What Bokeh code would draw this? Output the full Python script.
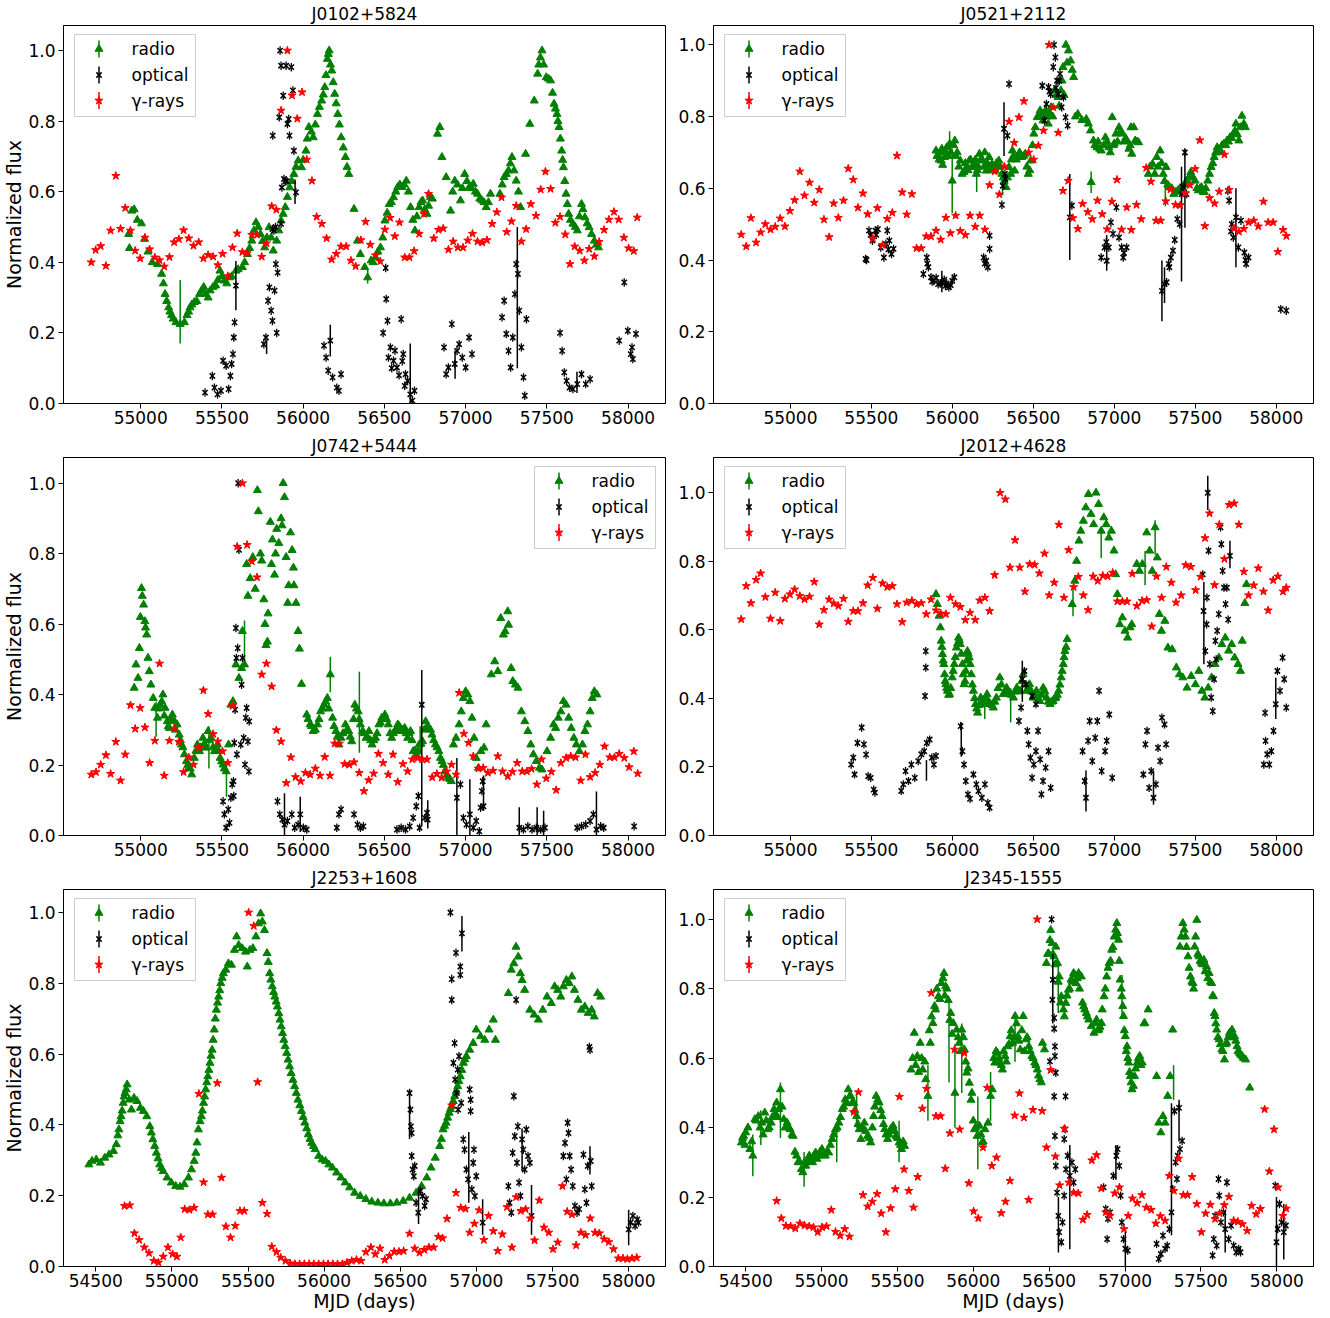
from bokeh.plotting import figure
from bokeh.layouts import gridplot
from bokeh.models import Range1d, FixedTicker, PrintfTickFormatter
from bokeh.core.properties import value
from bokeh.embed import file_html
from bokeh.resources import INLINE

# ---------------- data: (MJD, normalized flux) ----------------
J0102_radio = [(54926,0.48),(54931,0.44),(54945,0.546),(54960,0.55),(54979,0.52),(55005,0.51),(55024,0.466),(55045,0.43),(55071,0.40),(55103,0.395),(55129,0.367),(55140,0.34),(55150,0.31),(55160,0.29),(55172,0.272),(55180,0.26),(55190,0.25),(55200,0.24),(55217,0.23),(55243,0.225),(55269,0.23),(55285,0.25),(55295,0.26),(55304,0.272),(55315,0.28),(55330,0.287),(55345,0.29),(55362,0.31),(55375,0.32),(55388,0.33),(55400,0.31),(55415,0.30),(55428,0.32),(55445,0.33),(55462,0.334),(55475,0.35),(55488,0.376),(55500,0.36),(55515,0.348),(55530,0.34),(55546,0.357),(55560,0.36),(55586,0.376),(55600,0.38),(55626,0.386),(55640,0.40),(55657,0.423),(55670,0.44),(55684,0.461),(55697,0.49),(55710,0.513),(55724,0.50),(55737,0.48),(55750,0.46),(55763,0.442),(55777,0.47),(55790,0.499),(55803,0.47),(55816,0.433),(55837,0.461),(55850,0.49),(55864,0.518),(55877,0.537),(55890,0.556),(55903,0.585),(55917,0.612),(55930,0.63),(55943,0.65),(55956,0.67),(55969,0.688),(55990,0.669),(56000,0.69),(56017,0.716),(56025,0.75),(56035,0.783),(56050,0.77),(56062,0.754),(56075,0.79),(56088,0.82),(56100,0.84),(56114,0.858),(56124,0.875),(56133,0.896),(56140,0.93),(56149,0.976),(56155,0.99),(56160,1.0),(56168,0.96),(56176,0.943),(56185,0.91),(56194,0.877),(56203,0.85),(56213,0.82),(56223,0.79),(56234,0.754),(56247,0.725),(56260,0.698),(56270,0.67),(56281,0.65),(56313,0.551),(56334,0.461),(56352,0.423),(56379,0.386),(56397,0.357),(56418,0.405),(56430,0.40),(56445,0.414),(56460,0.43),(56476,0.442),(56490,0.47),(56503,0.518),(56517,0.54),(56530,0.565),(56543,0.57),(56556,0.584),(56570,0.60),(56582,0.613),(56595,0.62),(56609,0.613),(56622,0.62),(56635,0.631),(56648,0.60),(56661,0.556),(56675,0.52),(56688,0.49),(56700,0.53),(56714,0.556),(56725,0.57),(56735,0.575),(56748,0.55),(56762,0.537),(56772,0.56),(56783,0.584),(56795,0.58),(56827,0.764),(56841,0.783),(56854,0.698),(56880,0.641),(56907,0.546),(56920,0.60),(56933,0.631),(56950,0.62),(56968,0.575),(56980,0.61),(56994,0.65),(57008,0.63),(57021,0.612),(57035,0.61),(57047,0.622),(57060,0.60),(57073,0.594),(57087,0.58),(57100,0.575),(57113,0.57),(57126,0.556),(57140,0.57),(57153,0.594),(57211,0.594),(57225,0.62),(57237,0.641),(57250,0.65),(57264,0.66),(57275,0.68),(57285,0.698),(57298,0.66),(57311,0.631),(57325,0.60),(57338,0.556),(57369,0.707),(57395,0.792),(57422,0.858),(57443,0.934),(57450,0.96),(57460,0.98),(57470,1.0),(57480,0.96),(57496,0.924),(57510,0.92),(57523,0.915),(57535,0.88),(57544,0.849),(57553,0.835),(57562,0.82),(57568,0.80),(57575,0.783),(57583,0.75),(57591,0.716),(57597,0.69),(57602,0.669),(57610,0.63),(57618,0.594),(57626,0.565),(57634,0.537),(57645,0.52),(57660,0.509),(57675,0.50),(57687,0.49),(57700,0.53),(57713,0.565),(57722,0.55),(57734,0.527),(57748,0.51),(57760,0.499),(57775,0.48),(57792,0.461),(57805,0.45),(57818,0.442)]
J0102_optical = [(55396,0.031),(55441,0.078),(55454,0.045),(55473,0.026),(55494,0.036),(55507,0.121),(55526,0.107),(55541,0.041),(55552,0.078),(55560,0.112),(55568,0.14),(55573,0.187),(55578,0.23),(55586,0.334),(55758,0.168),(55771,0.187),(55784,0.291),(55792,0.329),(55803,0.263),(55811,0.234),(55813,0.759),(55824,0.32),(55832,0.395),(55837,0.2),(55843,0.371),(55853,0.811),(55858,1.0),(55864,0.957),(55869,0.612),(55877,0.872),(55882,0.636),(55890,0.63),(55900,0.63),(55895,0.957),(55903,0.792),(55911,0.806),(55916,0.759),(55927,0.953),(55937,0.887),(55943,0.716),(55956,0.598),(55811,0.494),(55820,0.49),(55830,0.5),(55864,0.509),(56128,0.164),(56141,0.13),(56154,0.093),(56167,0.178),(56181,0.074),(56207,0.045),(56220,0.036),(56233,0.083),(56492,0.2),(56508,0.384),(56511,0.296),(56519,0.234),(56525,0.13),(56537,0.159),(56545,0.1),(56556,0.121),(56565,0.15),(56577,0.102),(56590,0.08),(56603,0.239),(56610,0.12),(56616,0.14),(56625,0.05),(56630,0.083),(56643,0.064),(56659,0.026),(56672,0.008),(56685,0.036),(56867,0.159),(56880,0.083),(56894,0.102),(56915,0.225),(56933,0.112),(56947,0.149),(56960,0.168),(56979,0.13),(57000,0.102),(57021,0.187),(57039,0.14),(57224,0.244),(57237,0.291),(57250,0.197),(57264,0.149),(57277,0.102),(57290,0.187),(57303,0.31),(57311,0.395),(57322,0.367),(57330,0.263),(57343,0.159),(57356,0.074),(57364,0.022),(57374,0.239),(57581,0.2),(57594,0.149),(57607,0.088),(57621,0.064),(57639,0.045),(57660,0.041),(57687,0.055),(57713,0.083),(57739,0.055),(57766,0.069),(57945,0.178),(57976,0.343),(57998,0.206),(58016,0.14),(58024,0.159),(58029,0.126),(58048,0.197)]
J0102_gamma = [(54696,0.40),(54723,0.435),(54754,0.446),(54786,0.39),(54815,0.49),(54847,0.645),(54876,0.495),(54905,0.554),(54937,0.49),(54966,0.433),(54997,0.411),(55026,0.47),(55055,0.437),(55087,0.414),(55116,0.406),(55145,0.388),(55177,0.415),(55206,0.457),(55235,0.466),(55264,0.491),(55296,0.468),(55325,0.447),(55357,0.457),(55386,0.411),(55415,0.421),(55446,0.416),(55475,0.392),(55504,0.424),(55536,0.361),(55565,0.442),(55594,0.482),(55626,0.429),(55655,0.426),(55684,0.478),(55716,0.478),(55745,0.416),(55774,0.454),(55806,0.559),(55835,0.549),(55864,0.83),(55903,1.0),(55932,0.873),(55964,0.807),(55993,0.882),(56022,0.691),(56054,0.631),(56083,0.529),(56115,0.509),(56144,0.468),(56175,0.408),(56204,0.424),(56233,0.445),(56265,0.445),(56294,0.405),(56323,0.389),(56355,0.463),(56384,0.515),(56413,0.45),(56445,0.42),(56474,0.403),(56503,0.493),(56535,0.526),(56564,0.474),(56593,0.513),(56625,0.414),(56654,0.414),(56683,0.432),(56714,0.481),(56743,0.537),(56772,0.594),(56804,0.468),(56833,0.492),(56862,0.496),(56894,0.436),(56923,0.459),(56952,0.442),(56984,0.442),(57013,0.462),(57042,0.481),(57073,0.459),(57102,0.456),(57131,0.463),(57163,0.509),(57192,0.542),(57221,0.584),(57253,0.486),(57282,0.516),(57311,0.56),(57343,0.459),(57372,0.494),(57401,0.565),(57433,0.532),(57462,0.606),(57491,0.657),(57523,0.608),(57552,0.512),(57581,0.529),(57613,0.479),(57642,0.395),(57671,0.445),(57702,0.433),(57731,0.405),(57760,0.438),(57792,0.417),(57821,0.458),(57852,0.492),(57882,0.521),(57913,0.543),(57942,0.521),(57974,0.47),(58003,0.44),(58035,0.432),(58056,0.527)]
J0102_radio_err = [(55243,0.26,0.09),(56397,0.36,0.02)]
J0102_optical_err = [(55586,0.334,0.07),(56167,0.178,0.045),(56659,0.085,0.085),(57318,0.30,0.20),(55950,0.6,0.035),(56935,0.11,0.04),(57685,0.06,0.03),(55775,0.16,0.02)]

J0521_radio = [(55899,0.705),(55905,0.69),(55912,0.691),(55918,0.68),(55925,0.70),(55931,0.677),(55935,0.71),(55940,0.665),(55952,0.687),(55958,0.70),(55965,0.714),(55975,0.69),(55983,0.724),(55990,0.70),(55999,0.621),(56008,0.72),(56015,0.733),(56022,0.69),(56030,0.70),(56040,0.66),(56049,0.677),(56060,0.64),(56072,0.645),(56080,0.67),(56090,0.66),(56097,0.65),(56104,0.677),(56112,0.68),(56122,0.659),(56128,0.66),(56135,0.67),(56142,0.68),(56148,0.64),(56155,0.65),(56160,0.66),(56167,0.696),(56175,0.68),(56188,0.677),(56195,0.66),(56200,0.70),(56209,0.649),(56215,0.67),(56227,0.687),(56233,0.66),(56240,0.65),(56245,0.668),(56252,0.66),(56266,0.649),(56272,0.67),(56280,0.66),(56287,0.677),(56295,0.66),(56306,0.64),(56315,0.63),(56320,0.62),(56332,0.603),(56340,0.63),(56350,0.659),(56360,0.64),(56365,0.68),(56371,0.705),(56378,0.69),(56385,0.649),(56395,0.68),(56403,0.687),(56415,0.70),(56429,0.687),(56440,0.69),(56450,0.696),(56460,0.66),(56469,0.64),(56478,0.65),(56484,0.677),(56495,0.72),(56503,0.752),(56512,0.77),(56524,0.798),(56532,0.80),(56542,0.817),(56550,0.80),(56560,0.789),(56568,0.81),(56576,0.817),(56585,0.80),(56592,0.78),(56600,0.81),(56610,0.826),(56620,0.80),(56631,0.873),(56640,0.86),(56652,0.854),(56660,0.83),(56670,0.873),(56677,0.90),(56683,0.938),(56690,0.86),(56701,1.0),(56708,0.95),(56717,0.984),(56730,0.956),(56740,0.93),(56749,0.91),(56760,0.80),(56775,0.807),(56800,0.79),(56827,0.793),(56840,0.78),(56853,0.761),(56857,0.617),(56871,0.733),(56880,0.72),(56893,0.714),(56900,0.73),(56910,0.71),(56919,0.705),(56935,0.72),(56945,0.742),(56955,0.73),(56966,0.714),(56975,0.70),(56987,0.798),(56995,0.72),(57000,0.725),(57010,0.752),(57020,0.73),(57029,0.77),(57040,0.76),(57050,0.752),(57060,0.73),(57070,0.74),(57076,0.733),(57090,0.71),(57098,0.72),(57103,0.77),(57108,0.696),(57120,0.77),(57129,0.733),(57140,0.73),(57150,0.728),(57210,0.64),(57220,0.66),(57236,0.668),(57250,0.64),(57262,0.687),(57270,0.66),(57283,0.705),(57292,0.67),(57302,0.64),(57310,0.62),(57320,0.659),(57330,0.61),(57341,0.603),(57355,0.60),(57367,0.584),(57380,0.59),(57393,0.594),(57405,0.60),(57420,0.603),(57432,0.61),(57446,0.621),(57460,0.63),(57472,0.645),(57485,0.63),(57499,0.621),(57510,0.60),(57519,0.594),(57530,0.60),(57538,0.603),(57548,0.59),(57556,0.589),(57565,0.60),(57577,0.621),(57588,0.64),(57598,0.659),(57608,0.67),(57617,0.687),(57626,0.70),(57635,0.714),(57645,0.70),(57656,0.705),(57665,0.72),(57677,0.724),(57688,0.72),(57696,0.733),(57705,0.73),(57714,0.742),(57725,0.74),(57735,0.752),(57745,0.76),(57751,0.78),(57760,0.75),(57769,0.733),(57778,0.77),(57788,0.802),(57800,0.78),(57809,0.77)]
J0521_optical = [(55464,0.403),(55470,0.40),(55485,0.482),(55495,0.47),(55506,0.454),(55524,0.482),(55530,0.47),(55540,0.486),(55558,0.435),(55577,0.407),(55590,0.445),(55598,0.482),(55605,0.43),(55611,0.454),(55624,0.417),(55637,0.431),(55821,0.361),(55842,0.407),(55845,0.39),(55852,0.38),(55868,0.352),(55875,0.34),(55886,0.342),(55900,0.35),(55912,0.333),(55925,0.335),(55939,0.338),(55950,0.345),(55957,0.328),(55965,0.335),(55978,0.324),(55990,0.33),(55999,0.342),(56012,0.352),(56193,0.407),(56200,0.39),(56209,0.398),(56219,0.38),(56230,0.431),(56230,0.468),(56306,0.554),(56311,0.607),(56319,0.766),(56325,0.64),(56327,0.626),(56340,0.747),(56350,0.891),(56555,0.886),(56568,0.789),(56581,0.835),(56594,0.882),(56600,0.87),(56607,0.863),(56623,0.938),(56628,1.0),(56636,0.965),(56640,0.88),(56646,0.9),(56654,0.863),(56660,0.90),(56665,0.919),(56675,0.826),(56686,0.854),(56699,0.798),(56712,0.775),(56725,0.519),(56738,0.552),(56919,0.407),(56940,0.435),(56950,0.45),(56953,0.398),(56966,0.435),(56979,0.505),(56992,0.473),(57013,0.547),(57029,0.463),(57045,0.435),(57055,0.407),(57060,0.42),(57076,0.435),(57294,0.314),(57310,0.333),(57323,0.338),(57336,0.389),(57340,0.38),(57349,0.407),(57362,0.426),(57373,0.456),(57389,0.514),(57404,0.5),(57415,0.584),(57425,0.603),(57436,0.7),(57446,0.584),(57701,0.593),(57709,0.566),(57720,0.48),(57725,0.5),(57735,0.463),(57751,0.519),(57766,0.435),(57782,0.51),(57803,0.421),(57810,0.40),(57814,0.389),(57829,0.407),(58028,0.263),(58062,0.259)]
J0521_gamma = [(54696,0.471),(54727,0.438),(54756,0.517),(54788,0.449),(54816,0.477),(54845,0.5),(54877,0.485),(54906,0.493),(54937,0.516),(54966,0.494),(54997,0.537),(55026,0.567),(55058,0.647),(55087,0.58),(55118,0.616),(55147,0.56),(55178,0.596),(55207,0.513),(55239,0.464),(55267,0.558),(55296,0.518),(55328,0.566),(55357,0.655),(55388,0.624),(55417,0.546),(55448,0.586),(55477,0.528),(55509,0.46),(55537,0.545),(55569,0.442),(55598,0.515),(55629,0.532),(55658,0.691),(55690,0.589),(55718,0.527),(55750,0.584),(55779,0.433),(55808,0.433),(55839,0.466),(55868,0.466),(55899,0.482),(55928,0.457),(55960,0.518),(55988,0.475),(56020,0.524),(56049,0.481),(56080,0.47),(56109,0.524),(56141,0.493),(56169,0.524),(56201,0.485),(56230,0.609),(56261,0.647),(56290,0.583),(56321,0.661),(56350,0.786),(56382,0.727),(56411,0.798),(56442,0.843),(56471,0.7),(56502,0.68),(56531,0.719),(56563,0.761),(56597,1.0),(56623,0.826),(56654,0.755),(56683,0.593),(56715,0.621),(56744,0.517),(56775,0.487),(56804,0.557),(56836,0.534),(56864,0.514),(56896,0.566),(56925,0.528),(56956,0.486),(56985,0.563),(57016,0.624),(57045,0.485),(57077,0.547),(57105,0.484),(57137,0.554),(57166,0.514),(57197,0.657),(57226,0.619),(57258,0.51),(57286,0.51),(57318,0.564),(57347,0.597),(57378,0.554),(57407,0.553),(57438,0.586),(57467,0.609),(57499,0.654),(57528,0.734),(57559,0.495),(57588,0.573),(57619,0.558),(57648,0.591),(57680,0.694),(57709,0.596),(57740,0.488),(57769,0.479),(57800,0.487),(57829,0.505),(57861,0.51),(57889,0.494),(57921,0.563),(57950,0.505),(57981,0.505),(58010,0.423),(58042,0.484),(58062,0.467)]
J0521_radio_err = [(55999,0.621,0.09),(55983,0.724,0.035),(56857,0.617,0.03),(56310,0.62,0.04),(57315,0.59,0.04),(56150,0.63,0.04)]
J0521_optical_err = [(56319,0.765,0.075),(56725,0.52,0.12),(57294,0.314,0.085),(57415,0.50,0.16),(57436,0.6,0.11),(57751,0.49,0.11),(56953,0.42,0.05),(57310,0.33,0.05),(55935,0.34,0.03)]

J0742_radio = [(54960,0.419),(54971,0.485),(54984,0.447),(54992,0.532),(54998,0.62),(55005,0.702),(55010,0.68),(55018,0.655),(55026,0.608),(55030,0.59),(55037,0.57),(55045,0.504),(55053,0.466),(55063,0.428),(55077,0.39),(55087,0.362),(55103,0.334),(55110,0.36),(55119,0.371),(55130,0.38),(55137,0.4),(55145,0.34),(55150,0.362),(55164,0.324),(55170,0.31),(55177,0.305),(55185,0.33),(55195,0.343),(55208,0.324),(55215,0.30),(55224,0.315),(55237,0.286),(55245,0.27),(55251,0.258),(55260,0.25),(55269,0.23),(55282,0.211),(55290,0.20),(55296,0.192),(55305,0.19),(55314,0.173),(55330,0.22),(55340,0.24),(55349,0.258),(55362,0.239),(55370,0.25),(55383,0.277),(55392,0.26),(55401,0.249),(55415,0.296),(55425,0.27),(55433,0.277),(55445,0.25),(55454,0.239),(55465,0.24),(55473,0.258),(55480,0.24),(55489,0.22),(55498,0.21),(55507,0.201),(55515,0.19),(55526,0.182),(55541,0.258),(55555,0.371),(55568,0.381),(55586,0.485),(55605,0.447),(55621,0.475),(55626,0.58),(55639,0.485),(55652,0.77),(55660,0.68),(55674,0.73),(55690,0.79),(55705,0.70),(55718,0.98),(55724,0.92),(55737,0.80),(55745,0.78),(55758,0.67),(55765,0.60),(55771,0.54),(55780,0.55),(55784,0.63),(55798,0.89),(55805,0.77),(55811,0.84),(55824,0.74),(55830,0.80),(55837,0.87),(55850,0.83),(55864,0.90),(55870,0.88),(55877,1.0),(55885,0.96),(55895,0.79),(55905,0.66),(55911,0.71),(55922,0.86),(55932,0.81),(55940,0.76),(55943,0.71),(55956,0.66),(55969,0.58),(55977,0.53),(55990,0.43),(56022,0.343),(56030,0.33),(56043,0.315),(56052,0.31),(56062,0.296),(56075,0.30),(56088,0.315),(56098,0.33),(56107,0.352),(56118,0.36),(56128,0.371),(56138,0.38),(56149,0.39),(56158,0.36),(56167,0.457),(56181,0.334),(56190,0.31),(56202,0.296),(56210,0.28),(56220,0.258),(56233,0.277),(56245,0.29),(56260,0.315),(56270,0.30),(56281,0.296),(56290,0.28),(56299,0.267),(56310,0.33),(56318,0.371),(56328,0.36),(56339,0.352),(56345,0.33),(56352,0.315),(56366,0.296),(56375,0.29),(56387,0.277),(56395,0.28),(56405,0.296),(56415,0.27),(56424,0.258),(56435,0.27),(56445,0.277),(56455,0.29),(56466,0.315),(56475,0.32),(56484,0.334),(56493,0.33),(56503,0.343),(56514,0.33),(56524,0.315),(56535,0.29),(56545,0.277),(56555,0.29),(56564,0.296),(56573,0.30),(56582,0.315),(56592,0.31),(56603,0.296),(56614,0.30),(56625,0.305),(56634,0.29),(56643,0.277),(56652,0.29),(56661,0.296),(56670,0.27),(56677,0.239),(56686,0.24),(56696,0.23),(56705,0.24),(56714,0.258),(56725,0.26),(56735,0.267),(56745,0.30),(56754,0.324),(56765,0.31),(56775,0.305),(56784,0.30),(56793,0.286),(56803,0.27),(56814,0.258),(56824,0.25),(56835,0.239),(56845,0.22),(56854,0.211),(56863,0.20),(56872,0.182),(56883,0.17),(56894,0.164),(56903,0.16),(56912,0.154),(56925,0.258),(56941,0.277),(56960,0.315),(56973,0.352),(56986,0.39),(57000,0.409),(57013,0.4),(57026,0.381),(57039,0.334),(57052,0.277),(57065,0.22),(57079,0.192),(57094,0.239),(57113,0.249),(57126,0.315),(57158,0.457),(57179,0.494),(57198,0.466),(57216,0.617),(57232,0.57),(57243,0.579),(57259,0.636),(57264,0.598),(57280,0.475),(57290,0.438),(57306,0.428),(57322,0.419),(57343,0.352),(57364,0.324),(57383,0.296),(57401,0.258),(57417,0.23),(57435,0.211),(57454,0.192),(57470,0.187),(57501,0.239),(57523,0.277),(57541,0.315),(57554,0.305),(57570,0.334),(57586,0.352),(57602,0.381),(57618,0.371),(57634,0.334),(57650,0.305),(57666,0.277),(57681,0.258),(57700,0.239),(57719,0.258),(57734,0.296),(57750,0.315),(57766,0.352),(57779,0.39),(57792,0.409),(57808,0.4)]
J0742_optical = [(55507,0.097),(55515,0.06),(55526,0.022),(55539,0.074),(55547,0.036),(55555,0.107),(55563,0.145),(55571,0.154),(55573,0.112),(55576,0.263),(55581,0.357),(55586,0.589),(55589,0.504),(55592,0.23),(55597,0.532),(55600,1.0),(55605,0.811),(55616,0.258),(55621,0.428),(55626,0.504),(55634,0.277),(55642,0.201),(55647,0.334),(55652,0.362),(55660,0.267),(55666,0.182),(55668,0.324),(55842,0.097),(55856,0.06),(55872,0.045),(55885,0.031),(55903,0.041),(55930,0.06),(55948,0.022),(55969,0.031),(55982,0.06),(56001,0.022),(56022,0.017),(56207,0.022),(56220,0.06),(56233,0.074),(56313,0.06),(56334,0.031),(56352,0.022),(56371,0.026),(56577,0.017),(56603,0.022),(56630,0.017),(56656,0.026),(56677,0.05),(56696,0.083),(56709,0.112),(56717,0.022),(56730,0.371),(56749,0.05),(56762,0.064),(56767,0.045),(56946,0.107),(56968,0.145),(56986,0.05),(57005,0.031),(57026,0.06),(57047,0.022),(57065,0.041),(57084,0.012),(57092,0.079),(57100,0.126),(57105,0.154),(57110,0.083),(57330,0.022),(57356,0.017),(57383,0.026),(57409,0.017),(57435,0.022),(57462,0.017),(57488,0.022),(57686,0.022),(57713,0.026),(57739,0.031),(57766,0.041),(57786,0.06),(57805,0.017),(57831,0.026),(57850,0.022),(58037,0.026)]
J0742_gamma = [(54696,0.173),(54725,0.18),(54754,0.201),(54786,0.228),(54815,0.175),(54847,0.266),(54876,0.156),(54905,0.23),(54937,0.37),(54966,0.303),(54997,0.362),(55026,0.307),(55055,0.206),(55087,0.269),(55116,0.488),(55145,0.17),(55177,0.269),(55206,0.303),(55235,0.266),(55264,0.18),(55296,0.222),(55325,0.201),(55357,0.249),(55386,0.412),(55415,0.345),(55446,0.288),(55475,0.267),(55504,0.239),(55536,0.206),(55565,0.368),(55594,0.82),(55626,1.0),(55655,0.825),(55684,0.778),(55716,0.733),(55745,0.457),(55774,0.488),(55806,0.423),(55835,0.299),(55864,0.267),(55896,0.149),(55924,0.222),(55953,0.166),(55985,0.154),(56014,0.178),(56043,0.173),(56075,0.19),(56104,0.17),(56133,0.223),(56165,0.17),(56194,0.261),(56223,0.261),(56255,0.203),(56284,0.201),(56313,0.208),(56345,0.178),(56374,0.126),(56403,0.157),(56434,0.176),(56463,0.232),(56492,0.206),(56524,0.173),(56553,0.23),(56582,0.152),(56614,0.203),(56643,0.182),(56672,0.216),(56704,0.22),(56733,0.216),(56762,0.216),(56794,0.165),(56823,0.175),(56852,0.164),(56883,0.182),(56913,0.201),(56941,0.173),(56960,0.405),(56989,0.289),(57018,0.263),(57047,0.225),(57079,0.19),(57108,0.192),(57137,0.178),(57169,0.184),(57198,0.225),(57227,0.182),(57259,0.168),(57288,0.181),(57317,0.206),(57348,0.182),(57377,0.182),(57406,0.189),(57438,0.145),(57467,0.216),(57496,0.162),(57528,0.181),(57557,0.129),(57586,0.206),(57618,0.22),(57647,0.225),(57676,0.222),(57708,0.156),(57737,0.23),(57766,0.166),(57797,0.178),(57826,0.201),(57855,0.253),(57887,0.222),(57916,0.222),(57945,0.232),(57976,0.22),(58006,0.194),(58035,0.239),(58059,0.176)]
J0742_radio_err = [(55528,0.16,0.05),(56167,0.457,0.05),(56346,0.35,0.115),(55420,0.25,0.06),(55639,0.55,0.06),(55095,0.33,0.05),(56720,0.27,0.04)]
J0742_optical_err = [(55885,0.06,0.06),(55982,0.06,0.05),(56730,0.25,0.22),(56946,0.11,0.11),(57026,0.08,0.08),(57805,0.06,0.065),(57330,0.04,0.04),(57440,0.04,0.04),(57480,0.03,0.04),(56767,0.06,0.04),(57110,0.12,0.05)]

J2012_radio = [(55899,0.704),(55907,0.675),(55918,0.641),(55926,0.607),(55931,0.568),(55935,0.55),(55939,0.529),(55943,0.51),(55947,0.5),(55952,0.47),(55956,0.45),(55960,0.441),(55965,0.43),(55970,0.422),(55977,0.41),(55983,0.412),(55990,0.43),(55999,0.461),(56005,0.48),(56012,0.5),(56018,0.52),(56025,0.548),(56032,0.56),(56038,0.577),(56043,0.57),(56049,0.558),(56055,0.53),(56062,0.5),(56067,0.47),(56072,0.441),(56078,0.45),(56083,0.48),(56088,0.51),(56093,0.538),(56098,0.53),(56104,0.519),(56110,0.50),(56117,0.47),(56123,0.44),(56130,0.422),(56137,0.40),(56143,0.383),(56150,0.37),(56156,0.358),(56165,0.38),(56175,0.402),(56185,0.39),(56193,0.383),(56205,0.40),(56214,0.412),(56225,0.39),(56235,0.383),(56245,0.38),(56253,0.373),(56262,0.39),(56272,0.402),(56282,0.43),(56293,0.461),(56303,0.44),(56314,0.412),(56325,0.42),(56335,0.431),(56345,0.42),(56356,0.412),(56366,0.41),(56377,0.402),(56388,0.42),(56398,0.431),(56408,0.42),(56419,0.422),(56428,0.45),(56437,0.47),(56448,0.44),(56458,0.422),(56467,0.43),(56477,0.441),(56488,0.42),(56498,0.402),(56508,0.41),(56519,0.422),(56530,0.40),(56540,0.392),(56550,0.41),(56561,0.431),(56571,0.42),(56582,0.402),(56592,0.39),(56603,0.383),(56612,0.39),(56622,0.392),(56631,0.40),(56640,0.402),(56648,0.41),(56656,0.422),(56664,0.44),(56672,0.461),(56678,0.48),(56685,0.5),(56690,0.52),(56695,0.538),(56702,0.55),(56709,0.573),(56740,0.675),(56756,0.743),(56767,0.801),(56782,0.86),(56793,0.889),(56809,0.918),(56824,0.957),(56840,0.996),(56856,0.938),(56872,0.908),(56887,1.0),(56903,0.967),(56919,0.889),(56935,0.928),(56950,0.908),(56966,0.869),(56982,0.889),(56998,0.831),(57008,0.762),(57019,0.704),(57034,0.616),(57050,0.636),(57066,0.597),(57082,0.577),(57097,0.607),(57108,0.616),(57139,0.792),(57155,0.772),(57173,0.792),(57200,0.884),(57218,0.831),(57234,0.772),(57252,0.899),(57265,0.811),(57278,0.646),(57291,0.597),(57312,0.626),(57331,0.548),(57357,0.543),(57383,0.49),(57402,0.47),(57423,0.461),(57449,0.431),(57475,0.465),(57501,0.441),(57522,0.48),(57541,0.422),(57559,0.402),(57580,0.431),(57601,0.461),(57622,0.5),(57646,0.519),(57664,0.558),(57685,0.577),(57706,0.539),(57725,0.558),(57743,0.519),(57764,0.5),(57779,0.48),(57790,0.568),(57806,0.678),(57816,0.733)]
J2012_optical = [(55375,0.207),(55388,0.227),(55396,0.178),(55414,0.27),(55440,0.315),(55454,0.266),(55467,0.236),(55480,0.173),(55496,0.168),(55514,0.134),(55522,0.125),(55684,0.13),(55697,0.149),(55711,0.188),(55729,0.159),(55747,0.207),(55768,0.168),(55789,0.217),(55808,0.237),(55826,0.246),(55831,0.407),(55836,0.538),(55836,0.49),(55842,0.27),(55860,0.28),(55873,0.227),(55886,0.207),(55899,0.232),(56051,0.319),(56062,0.246),(56072,0.207),(56083,0.159),(56096,0.12),(56109,0.107),(56130,0.178),(56148,0.149),(56161,0.13),(56182,0.11),(56201,0.149),(56219,0.095),(56230,0.081),(56411,0.334),(56424,0.373),(56432,0.456),(56445,0.48),(56455,0.441),(56463,0.305),(56471,0.266),(56482,0.227),(56492,0.168),(56492,0.407),(56503,0.207),(56516,0.246),(56516,0.383),(56529,0.305),(56542,0.222),(56550,0.12),(56560,0.159),(56576,0.198),(56594,0.246),(56607,0.139),(56804,0.246),(56817,0.159),(56825,0.11),(56838,0.276),(56848,0.334),(56864,0.217),(56882,0.285),(56895,0.334),(56906,0.422),(56922,0.188),(56943,0.246),(56953,0.276),(56969,0.353),(56987,0.168),(57179,0.178),(57192,0.266),(57202,0.305),(57215,0.139),(57228,0.188),(57242,0.11),(57257,0.149),(57270,0.256),(57283,0.217),(57294,0.344),(57310,0.324),(57320,0.266),(57546,0.762),(57551,0.655),(57562,0.538),(57570,0.616),(57572,0.694),(57577,1.0),(57582,0.831),(57590,0.5),(57598,0.402),(57608,0.363),(57616,0.456),(57624,0.568),(57629,0.514),(57635,0.597),(57645,0.646),(57656,0.899),(57661,0.85),(57669,0.772),(57677,0.723),(57687,0.675),(57695,0.723),(57703,0.63),(57714,0.816),(57923,0.207),(57931,0.358),(57934,0.276),(57944,0.237),(57957,0.207),(57970,0.246),(57983,0.305),(57997,0.383),(58007,0.48),(58023,0.422),(58039,0.519),(58049,0.456),(58062,0.373)]
J2012_gamma = [(54696,0.631),(54727,0.728),(54756,0.678),(54788,0.746),(54816,0.765),(54845,0.696),(54877,0.633),(54906,0.709),(54937,0.626),(54966,0.691),(54997,0.704),(55026,0.718),(55058,0.699),(55087,0.689),(55118,0.697),(55147,0.74),(55178,0.616),(55207,0.658),(55239,0.689),(55267,0.677),(55296,0.67),(55328,0.691),(55357,0.624),(55388,0.655),(55417,0.655),(55448,0.678),(55477,0.73),(55509,0.752),(55537,0.662),(55569,0.736),(55598,0.725),(55629,0.728),(55658,0.675),(55690,0.623),(55718,0.68),(55750,0.685),(55779,0.675),(55808,0.678),(55839,0.646),(55868,0.689),(55899,0.657),(55928,0.648),(55960,0.646),(55988,0.694),(56020,0.675),(56049,0.667),(56080,0.629),(56109,0.65),(56141,0.629),(56169,0.686),(56201,0.694),(56230,0.655),(56261,0.76),(56295,1.0),(56327,0.981),(56356,0.782),(56387,0.862),(56416,0.782),(56448,0.712),(56477,0.792),(56508,0.79),(56537,0.765),(56569,0.823),(56598,0.701),(56629,0.738),(56658,0.907),(56689,0.694),(56718,0.833),(56749,0.725),(56778,0.755),(56809,0.701),(56838,0.658),(56869,0.756),(56898,0.743),(56929,0.758),(56959,0.756),(56990,0.767),(57019,0.683),(57050,0.683),(57079,0.683),(57111,0.764),(57139,0.67),(57171,0.685),(57200,0.687),(57231,0.61),(57260,0.756),(57292,0.694),(57321,0.784),(57352,0.738),(57381,0.68),(57413,0.701),(57441,0.789),(57473,0.784),(57502,0.716),(57533,0.755),(57560,0.868),(57588,0.94),(57619,0.731),(57648,0.907),(57680,0.807),(57709,0.965),(57740,0.969),(57769,0.907),(57800,0.77),(57829,0.701),(57861,0.73),(57889,0.78),(57921,0.712),(57950,0.657),(57981,0.745),(58010,0.756),(58042,0.712),(58062,0.723)]
J2012_radio_err = [(56745,0.68,0.04),(57190,0.78,0.05),(56919,0.85,0.04),(56360,0.38,0.05),(57252,0.87,0.05),(56200,0.37,0.03)]
J2012_optical_err = [(57577,1.0,0.05),(57714,0.82,0.04),(57553,0.62,0.12),(56432,0.45,0.06),(56825,0.13,0.06),(56055,0.28,0.05),(57242,0.14,0.05),(57997,0.4,0.06),(55840,0.19,0.03)]

J2253_radio = [(54455,0.288),(54475,0.298),(54503,0.302),(54531,0.293),(54559,0.307),(54587,0.316),(54616,0.326),(54635,0.345),(54645,0.37),(54652,0.387),(54660,0.41),(54666,0.424),(54673,0.44),(54680,0.462),(54686,0.48),(54692,0.49),(54700,0.50),(54706,0.514),(54720,0.471),(54734,0.443),(54751,0.476),(54771,0.467),(54793,0.448),(54813,0.439),(54835,0.424),(54855,0.396),(54865,0.378),(54875,0.359),(54887,0.34),(54898,0.321),(54909,0.305),(54920,0.288),(54931,0.278),(54943,0.269),(54968,0.251),(54996,0.237),(55025,0.227),(55053,0.225),(55081,0.232),(55109,0.251),(55129,0.274),(55146,0.298),(55157,0.321),(55165,0.35),(55174,0.387),(55185,0.41),(55194,0.424),(55200,0.44),(55208,0.462),(55215,0.48),(55222,0.5),(55229,0.52),(55236,0.537),(55243,0.555),(55250,0.575),(55257,0.595),(55264,0.612),(55271,0.64),(55278,0.669),(55285,0.70),(55292,0.725),(55300,0.745),(55307,0.762),(55314,0.78),(55321,0.8),(55330,0.815),(55338,0.828),(55354,0.838),(55371,0.856),(55391,0.852),(55411,0.894),(55425,0.932),(55439,0.908),(55462,0.899),(55484,0.889),(55495,0.847),(55512,0.894),(55532,0.899),(55552,0.932),(55569,0.969),(55583,0.997),(55594,0.974),(55608,0.95),(55625,0.885),(55633,0.86),(55642,0.828),(55650,0.81),(55659,0.791),(55668,0.775),(55676,0.762),(55685,0.748),(55693,0.734),(55702,0.715),(55710,0.697),(55718,0.678),(55727,0.659),(55735,0.64),(55744,0.622),(55754,0.603),(55763,0.584),(55773,0.565),(55783,0.546),(55795,0.527),(55806,0.509),(55817,0.49),(55828,0.471),(55840,0.455),(55851,0.439),(55862,0.422),(55873,0.406),(55885,0.39),(55896,0.373),(55907,0.36),(55918,0.349),(55930,0.34),(55941,0.331),(55964,0.312),(55986,0.302),(56009,0.298),(56031,0.288),(56054,0.279),(56082,0.265),(56110,0.251),(56138,0.237),(56167,0.223),(56200,0.208),(56237,0.199),(56274,0.19),(56313,0.183),(56353,0.18),(56392,0.178),(56435,0.178),(56477,0.18),(56519,0.185),(56561,0.194),(56604,0.208),(56640,0.227),(56674,0.251),(56702,0.279),(56730,0.307),(56759,0.34),(56770,0.36),(56781,0.387),(56791,0.397),(56801,0.406),(56811,0.42),(56821,0.434),(56830,0.444),(56838,0.453),(56848,0.467),(56857,0.481),(56867,0.495),(56877,0.509),(56885,0.523),(56894,0.537),(56904,0.555),(56914,0.575),(56924,0.585),(56934,0.594),(56956,0.612),(56979,0.631),(56999,0.669),(57027,0.65),(57055,0.64),(57083,0.669),(57111,0.697),(57125,0.64),(57210,0.772),(57229,0.838),(57246,0.856),(57260,0.903),(57275,0.875),(57289,0.828),(57300,0.809),(57317,0.781),(57351,0.725),(57379,0.711),(57407,0.697),(57436,0.725),(57464,0.762),(57492,0.744),(57514,0.791),(57534,0.781),(57554,0.762),(57571,0.791),(57591,0.809),(57610,0.8),(57627,0.819),(57644,0.781),(57667,0.753),(57689,0.725),(57712,0.734),(57734,0.716),(57757,0.725),(57774,0.706),(57796,0.772),(57816,0.762)]
J2253_optical = [(56561,0.49),(56567,0.443),(56570,0.396),(56575,0.377),(56575,0.312),(56581,0.274),(56589,0.255),(56595,0.284),(56604,0.18),(56618,0.152),(56632,0.213),(56646,0.199),(56660,0.171),(56669,0.19),(56829,1.0),(56838,0.812),(56838,0.753),(56849,0.575),(56857,0.631),(56860,0.528),(56866,0.886),(56871,0.49),(56877,0.556),(56880,0.443),(56886,0.594),(56894,0.847),(56894,0.824),(56900,0.462),(56905,0.941),(56914,0.359),(56922,0.33),(56934,0.274),(56945,0.246),(56956,0.5),(56962,0.471),(56962,0.439),(56970,0.218),(56979,0.293),(56984,0.33),(56990,0.199),(56999,0.255),(57041,0.124),(57210,0.227),(57218,0.18),(57229,0.152),(57238,0.321),(57246,0.481),(57252,0.368),(57261,0.753),(57266,0.293),(57272,0.396),(57280,0.237),(57289,0.199),(57300,0.359),(57308,0.33),(57317,0.274),(57328,0.387),(57339,0.312),(57351,0.293),(57362,0.143),(57571,0.312),(57582,0.349),(57591,0.246),(57599,0.406),(57605,0.377),(57613,0.312),(57622,0.274),(57633,0.227),(57647,0.171),(57661,0.152),(57675,0.162),(57703,0.316),(57712,0.218),(57723,0.18),(57731,0.284),(57742,0.62),(57746,0.612),(57751,0.298),(57757,0.227),(58000,0.105),(58013,0.124),(58028,0.143),(58042,0.115),(58056,0.133),(58065,0.124)]
J2253_gamma = [(54689,0.171),(54723,0.173),(54754,0.094),(54785,0.075),(54819,0.054),(54850,0.038),(54881,0.016),(54912,0.011),(54943,0.028),(54974,0.054),(55005,0.035),(55033,0.028),(55058,0.082),(55084,0.162),(55115,0.16),(55146,0.166),(55177,0.488),(55208,0.238),(55236,0.147),(55267,0.147),(55298,0.518),(55326,0.251),(55354,0.113),(55385,0.082),(55416,0.115),(55447,0.157),(55475,0.157),(55504,1.0),(55538,0.962),(55563,0.521),(55594,0.18),(55625,0.149),(55656,0.056),(55687,0.041),(55715,0.025),(55746,0.016),(55777,0.009),(55808,0.007),(55839,0.007),(55870,0.007),(55901,0.007),(55932,0.007),(55964,0.007),(55995,0.007),(56026,0.007),(56057,0.007),(56088,0.007),(56119,0.007),(56150,0.011),(56181,0.016),(56212,0.019),(56243,0.016),(56274,0.041),(56307,0.054),(56336,0.035),(56367,0.051),(56398,0.019),(56429,0.03),(56460,0.042),(56491,0.042),(56522,0.044),(56561,0.093),(56595,0.051),(56626,0.039),(56657,0.047),(56688,0.054),(56719,0.054),(56750,0.084),(56778,0.08),(56807,0.135),(56838,0.455),(56866,0.208),(56897,0.166),(56928,0.163),(56956,0.096),(56987,0.121),(57018,0.159),(57049,0.075),(57080,0.143),(57111,0.1),(57140,0.044),(57170,0.091),(57201,0.168),(57233,0.054),(57261,0.196),(57292,0.157),(57323,0.162),(57354,0.136),(57382,0.074),(57413,0.187),(57444,0.11),(57475,0.096),(57503,0.049),(57534,0.068),(57565,0.227),(57596,0.155),(57627,0.147),(57655,0.06),(57686,0.096),(57717,0.089),(57748,0.136),(57779,0.096),(57808,0.094),(57839,0.077),(57870,0.069),(57901,0.049),(57932,0.023),(57963,0.023),(57991,0.021),(58022,0.023),(58053,0.025)]
J2253_radio_err = []
J2253_optical_err = [(56561,0.43,0.07),(56905,0.94,0.05),(57041,0.14,0.05),(57362,0.16,0.07),(56950,0.28,0.1),(58000,0.11,0.05),(56620,0.17,0.05),(57300,0.33,0.06),(57746,0.3,0.04)]

J2345_radio = [(54472,0.357),(54480,0.37),(54486,0.376),(54495,0.35),(54500,0.386),(54515,0.40),(54528,0.338),(54540,0.36),(54547,0.319),(54561,0.424),(54570,0.42),(54584,0.433),(54595,0.40),(54606,0.414),(54615,0.38),(54626,0.443),(54635,0.42),(54645,0.395),(54655,0.40),(54668,0.414),(54675,0.43),(54687,0.453),(54695,0.44),(54704,0.472),(54710,0.43),(54718,0.453),(54729,0.51),(54740,0.46),(54751,0.424),(54760,0.40),(54773,0.414),(54785,0.40),(54793,0.395),(54805,0.38),(54813,0.376),(54825,0.33),(54835,0.319),(54845,0.30),(54857,0.3),(54867,0.28),(54877,0.271),(54888,0.30),(54896,0.29),(54905,0.30),(54919,0.319),(54930,0.31),(54941,0.3),(54950,0.32),(54961,0.328),(54970,0.31),(54980,0.319),(54990,0.33),(55003,0.338),(55015,0.32),(55025,0.319),(55035,0.33),(55047,0.328),(55058,0.35),(55070,0.367),(55080,0.38),(55092,0.395),(55103,0.40),(55114,0.414),(55125,0.43),(55137,0.453),(55145,0.46),(55156,0.481),(55165,0.47),(55176,0.51),(55185,0.49),(55192,0.491),(55200,0.47),(55212,0.472),(55220,0.45),(55231,0.433),(55240,0.41),(55248,0.395),(55259,0.367),(55270,0.40),(55282,0.414),(55290,0.39),(55304,0.376),(55315,0.37),(55324,0.357),(55335,0.40),(55343,0.433),(55350,0.46),(55360,0.491),(55370,0.48),(55379,0.472),(55390,0.45),(55399,0.433),(55408,0.41),(55416,0.395),(55425,0.38),(55435,0.367),(55445,0.38),(55455,0.395),(55465,0.40),(55472,0.405),(55482,0.39),(55491,0.376),(55500,0.37),(55511,0.357),(55520,0.35),(55527,0.338),(55538,0.36),(55547,0.347),(55589,0.567),(55600,0.60),(55611,0.673),(55620,0.58),(55631,0.606),(55640,0.56),(55650,0.644),(55660,0.60),(55667,0.567),(55680,0.59),(55687,0.539),(55701,0.491),(55710,0.68),(55717,0.644),(55725,0.72),(55734,0.701),(55745,0.75),(55751,0.74),(55760,0.80),(55770,0.778),(55780,0.77),(55790,0.816),(55800,0.83),(55807,0.845),(55812,0.78),(55818,0.807),(55825,0.80),(55835,0.767),(55845,0.71),(55851,0.73),(55860,0.67),(55868,0.701),(55879,0.5),(55890,0.682),(55900,0.66),(55907,0.644),(55915,0.62),(55924,0.682),(55935,0.66),(55941,0.625),(55950,0.59),(55957,0.558),(55965,0.57),(55974,0.529),(55985,0.48),(55991,0.5),(56000,0.42),(56008,0.395),(56015,0.40),(56025,0.376),(56041,0.405),(56050,0.38),(56058,0.357),(56065,0.36),(56077,0.395),(56097,0.414),(56114,0.491),(56125,0.51),(56135,0.60),(56142,0.587),(56150,0.62),(56159,0.615),(56168,0.60),(56175,0.587),(56185,0.58),(56192,0.567),(56200,0.62),(56209,0.606),(56218,0.59),(56226,0.634),(56235,0.64),(56243,0.663),(56250,0.68),(56259,0.644),(56268,0.66),(56276,0.721),(56285,0.70),(56294,0.663),(56300,0.65),(56310,0.625),(56320,0.68),(56329,0.721),(56338,0.62),(56348,0.654),(56355,0.66),(56366,0.634),(56375,0.62),(56386,0.606),(56395,0.60),(56405,0.587),(56412,0.58),(56422,0.567),(56430,0.55),(56439,0.539),(56448,0.53),(56456,0.644),(56469,0.625),(56482,0.874),(56490,0.90),(56496,0.902),(56505,0.94),(56510,0.969),(56519,0.931),(56525,0.90),(56532,0.893),(56540,0.87),(56544,0.921),(56555,0.874),(56560,0.82),(56566,0.835),(56575,0.76),(56580,0.778),(56594,0.74),(56600,0.72),(56610,0.759),(56618,0.78),(56627,0.797),(56635,0.80),(56644,0.826),(56652,0.82),(56661,0.845),(56670,0.84),(56678,0.816),(56685,0.83),(56694,0.845),(56700,0.80),(56712,0.835),(56720,0.76),(56728,0.749),(56735,0.74),(56745,0.73),(56752,0.72),(56761,0.711),(56778,0.692),(56795,0.673),(56805,0.70),(56812,0.711),(56820,0.68),(56828,0.682),(56835,0.69),(56845,0.701),(56850,0.74),(56862,0.778),(56870,0.80),(56879,0.835),(56888,0.86),(56895,0.874),(56905,0.88),(56912,0.912),(56920,0.92),(56929,0.95),(56938,0.97),(56946,0.989),(56950,0.96),(56957,0.941),(56962,0.88),(56968,0.826),(56975,0.80),(56979,0.778),(56985,0.75),(56990,0.721),(56995,0.68),(57002,0.663),(57008,0.62),(57013,0.634),(57018,0.60),(57024,0.587),(57030,0.56),(57035,0.548),(57040,0.53),(57046,0.51),(57055,0.52),(57063,0.548),(57070,0.57),(57080,0.587),(57088,0.60),(57097,0.606),(57105,0.58),(57113,0.587),(57125,0.70),(57130,0.701),(57152,0.74),(57208,0.548),(57222,0.414),(57236,0.386),(57250,0.433),(57264,0.414),(57281,0.491),(57297,0.548),(57314,0.682),(57362,0.921),(57370,0.95),(57381,0.989),(57390,0.97),(57398,0.95),(57405,0.92),(57415,0.893),(57422,0.86),(57431,0.835),(57440,0.82),(57448,0.816),(57452,0.80),(57459,0.921),(57465,0.95),(57473,0.998),(57480,0.90),(57487,0.893),(57495,0.88),(57504,0.874),(57512,0.87),(57520,0.883),(57528,0.85),(57537,0.864),(57545,0.83),(57554,0.845),(57562,0.82),(57571,0.816),(57578,0.78),(57582,0.778),(57588,0.73),(57593,0.721),(57598,0.70),(57604,0.682),(57612,0.66),(57621,0.654),(57628,0.64),(57638,0.625),(57645,0.62),(57655,0.596),(57662,0.64),(57671,0.644),(57680,0.66),(57688,0.673),(57695,0.67),(57705,0.682),(57712,0.66),(57722,0.663),(57730,0.65),(57738,0.634),(57745,0.62),(57755,0.615),(57762,0.61),(57772,0.606),(57780,0.60),(57795,0.596),(57822,0.515)]
J2345_optical = [(56505,0.591),(56516,1.0),(56521,0.768),(56524,0.826),(56533,0.716),(56533,0.685),(56533,0.49),(56538,0.634),(56538,0.606),(56544,0.558),(56538,0.376),(56544,0.29),(56552,0.213),(56561,0.146),(56566,0.099),(56580,0.07),(56588,0.127),(56599,0.204),(56599,0.367),(56605,0.395),(56608,0.49),(56611,0.28),(56622,0.319),(56636,0.261),(56650,0.3),(56661,0.242),(56672,0.28),(56859,0.228),(56873,0.166),(56882,0.079),(56887,0.137),(56901,0.156),(56923,0.261),(56943,0.319),(56951,0.338),(56962,0.29),(56971,0.204),(56979,0.127),(56990,0.079),(57002,0.051),(57018,0.046),(57208,0.065),(57222,0.022),(57236,0.036),(57250,0.089),(57264,0.051),(57278,0.06),(57292,0.108),(57306,0.156),(57314,0.223),(57325,0.448),(57334,0.3),(57342,0.252),(57348,0.319),(57356,0.457),(57362,0.338),(57376,0.362),(57577,0.032),(57585,0.079),(57593,0.146),(57604,0.06),(57616,0.252),(57621,0.204),(57632,0.127),(57649,0.156),(57660,0.108),(57671,0.242),(57683,0.079),(57699,0.118),(57716,0.06),(57733,0.041),(57749,0.051),(57761,0.041),(57990,0.233),(57998,0.07),(58006,0.108),(58018,0.18),(58032,0.127),(58046,0.099),(58060,0.118)]
J2345_gamma = [(54704,0.189),(54735,0.139),(54765,0.117),(54796,0.116),(54827,0.11),(54857,0.124),(54888,0.118),(54919,0.116),(54947,0.113),(54975,0.099),(55003,0.113),(55033,0.116),(55064,0.163),(55092,0.1),(55123,0.089),(55153,0.108),(55184,0.086),(55212,0.445),(55243,0.502),(55273,0.206),(55304,0.173),(55335,0.187),(55366,0.209),(55393,0.153),(55424,0.099),(55455,0.168),(55486,0.223),(55513,0.489),(55544,0.28),(55575,0.218),(55606,0.17),(55634,0.258),(55664,0.455),(55692,0.512),(55723,0.788),(55754,0.433),(55784,0.433),(55815,0.282),(55846,0.384),(55876,0.625),(55910,0.395),(55941,0.615),(55971,0.24),(56002,0.159),(56033,0.139),(56064,0.343),(56092,0.515),(56122,0.29),(56153,0.314),(56184,0.154),(56212,0.187),(56242,0.247),(56273,0.435),(56304,0.499),(56334,0.429),(56365,0.192),(56393,0.451),(56421,1.0),(56454,0.448),(56482,0.343),(56510,0.566),(56541,0.317),(56569,0.234),(56600,0.397),(56630,0.242),(56661,0.213),(56692,0.211),(56722,0.135),(56750,0.149),(56781,0.306),(56812,0.321),(56843,0.225),(56873,0.156),(56901,0.146),(56932,0.211),(56963,0.228),(56993,0.108),(57021,0.146),(57049,0.196),(57080,0.183),(57111,0.206),(57141,0.17),(57172,0.163),(57203,0.124),(57233,0.145),(57264,0.132),(57292,0.261),(57322,0.218),(57353,0.311),(57384,0.206),(57412,0.206),(57442,0.258),(57473,0.18),(57503,0.099),(57531,0.153),(57562,0.178),(57593,0.137),(57623,0.153),(57654,0.177),(57685,0.201),(57716,0.132),(57744,0.129),(57774,0.122),(57805,0.103),(57834,0.175),(57864,0.151),(57892,0.166),(57920,0.453),(57951,0.274),(57982,0.395),(58009,0.228),(58040,0.146),(58062,0.167)]
J2345_radio_err = [(54547,0.32,0.06),(54729,0.45,0.08),(54885,0.28,0.05),(55231,0.45,0.05),(55511,0.36,0.06),(55701,0.5,0.08),(55840,0.65,0.12),(55879,0.52,0.12),(55924,0.6,0.1),(56030,0.385,0.105),(56114,0.49,0.07),(56275,0.66,0.07),(56560,0.8,0.07),(56980,0.78,0.06),(57320,0.53,0.05),(54600,0.40,0.05),(55100,0.35,0.05)]
J2345_optical_err = [(56524,0.8,0.1),(56561,0.12,0.08),(56636,0.2,0.15),(56940,0.3,0.05),(57002,0.05,0.05),(57306,0.28,0.19),(57356,0.42,0.06),(57660,0.1,0.06),(57998,0.1,0.1),(58046,0.1,0.08)]

# typical (small) optical uncertainty drawn on every optical point
OPTICAL_TYPICAL_ERR = 0.012

TITLES = ["J0102+5824", "J0521+2112", "J0742+5444", "J2012+4628", "J2253+1608", "J2345-1555"]
TICKS_TOP = [55000, 55500, 56000, 56500, 57000, 57500, 58000]
TICKS_BOTTOM = [54500, 55000, 55500, 56000, 56500, 57000, 57500, 58000]
Y_TICKS = [0.0, 0.2, 0.4, 0.6, 0.8, 1.0]
LEGEND_LABELS = ["radio", "optical", "γ-rays"]

FONT = "DejaVu Sans"
GREEN = "#008000"
RED = "#ff0000"
BLACK = "#000000"
TRI_SIZE = 8
X_SIZE = 7.5
STAR_SIZE = 8.5


def unzip(pairs):
    return [a for a, _ in pairs], [b for _, b in pairs]


def errbars(p, eb, color, width=1.5):
    if not eb:
        return
    t = [e[0] for e in eb]
    lo = [e[1] - e[2] for e in eb]
    hi = [e[1] + e[2] for e in eb]
    p.segment(x0=t, y0=lo, x1=t, y1=hi, line_color=color, line_width=width)


def make_panel(title, radio, optical, gamma, radio_eb, optical_eb, xr, ytop, xticks, col, row, legend_right):
    left = col == 0
    fw = 602 if left else 600
    fh = 377 if row == 2 else 378
    p = figure(frame_width=fw, frame_height=fh,
               x_range=Range1d(xr[0], xr[1]), y_range=Range1d(0, ytop),
               output_backend="svg", toolbar_location=None,
               min_border_left=63 if left else 43,
               min_border_right=5 if left else 17,
               min_border_top=25 if row == 0 else 27,
               min_border_bottom=27 if row < 2 else 52,
               title=title)
    p.title.text_font = FONT
    p.title.text_font_size = "17px"
    p.title.text_font_style = "normal"
    p.title.text_color = BLACK
    p.title.align = "center"
    p.title.standoff = 3
    p.background_fill_color = "white"
    p.border_fill_color = "white"
    p.outline_line_color = BLACK
    p.outline_line_alpha = 1.0
    p.outline_line_width = 1
    p.grid.visible = False

    for ax in (p.xaxis[0], p.yaxis[0]):
        ax.major_label_text_font = FONT
        ax.major_label_text_font_size = "17px"
        ax.major_label_text_color = BLACK
        ax.major_tick_out = 5
        ax.major_tick_in = 0
        ax.minor_tick_out = 0
        ax.minor_tick_in = 0
        ax.major_tick_line_color = BLACK
        ax.axis_line_color = BLACK
        ax.axis_label_text_font = FONT
        ax.axis_label_text_font_size = "19px"
        ax.axis_label_text_font_style = "normal"
        ax.axis_label_text_color = BLACK
    p.xaxis[0].major_label_standoff = 2
    p.yaxis[0].major_label_standoff = 3
    p.xaxis[0].axis_label_standoff = 0
    p.yaxis[0].axis_label_standoff = 0
    p.xaxis.ticker = FixedTicker(ticks=xticks)
    p.yaxis.ticker = FixedTicker(ticks=Y_TICKS)
    p.yaxis.formatter = PrintfTickFormatter(format="%.1f")
    if left:
        p.yaxis.axis_label = "Normalized flux"
    if row == 2:
        p.xaxis.axis_label = "MJD (days)"

    rt, rf = unzip(radio)
    ot, of = unzip(optical)
    gt, gf = unzip(gamma)

    errbars(p, radio_eb, GREEN)
    p.scatter(rt, rf, marker="triangle", size=TRI_SIZE, fill_color=GREEN, line_color=GREEN)
    errbars(p, [(t, f, OPTICAL_TYPICAL_ERR) for t, f in optical], BLACK, 1.3)
    errbars(p, optical_eb, BLACK)
    p.scatter(ot, of, marker="x", size=X_SIZE, line_color=BLACK, line_width=1.5)
    p.scatter(gt, gf, marker="star", size=STAR_SIZE, fill_color=RED, line_color=RED)

    # legend box drawn in frame pixel coordinates
    p.extra_x_ranges = {"px": Range1d(0, fw)}
    p.extra_y_ranges = {"px": Range1d(fh, 0)}
    bw, bh = 121, 82
    bx0 = fw - 10 - bw if legend_right else 11
    by0 = 9
    p.quad(left=[bx0], right=[bx0 + bw], top=[by0], bottom=[by0 + bh],
           fill_color="white", fill_alpha=0.8, line_color="#cccccc", line_width=1,
           x_range_name="px", y_range_name="px")
    rows_y = [by0 + 14.5, by0 + 40.5, by0 + 66]
    mx = bx0 + 24.5
    colors = [GREEN, BLACK, RED]
    p.segment(x0=[mx] * 3, y0=[y - 8.5 for y in rows_y], x1=[mx] * 3, y1=[y + 8.5 for y in rows_y],
              line_color=colors, line_width=1.5, x_range_name="px", y_range_name="px")
    p.scatter([mx], [rows_y[0]], marker="triangle", size=TRI_SIZE, fill_color=GREEN, line_color=GREEN,
              x_range_name="px", y_range_name="px")
    p.scatter([mx], [rows_y[1]], marker="x", size=X_SIZE, line_color=BLACK, line_width=1.5,
              x_range_name="px", y_range_name="px")
    p.scatter([mx], [rows_y[2]], marker="star", size=STAR_SIZE, fill_color=RED, line_color=RED,
              x_range_name="px", y_range_name="px")
    p.text(x=[bx0 + 57] * 3, y=rows_y, text=LEGEND_LABELS,
           text_font=value(FONT), text_font_size="17px", text_color=BLACK,
           text_baseline="middle", text_align="left",
           x_range_name="px", y_range_name="px")
    return p


XR_TOP = (54525, 58230)
XR_BOT = (54288, 58242)

p1 = make_panel(TITLES[0], J0102_radio, J0102_optical, J0102_gamma, J0102_radio_err, J0102_optical_err, XR_TOP, 1.071, TICKS_TOP, 0, 0, False)
p2 = make_panel(TITLES[1], J0521_radio, J0521_optical, J0521_gamma, J0521_radio_err, J0521_optical_err, XR_TOP, 1.054, TICKS_TOP, 1, 0, False)
p3 = make_panel(TITLES[2], J0742_radio, J0742_optical, J0742_gamma, J0742_radio_err, J0742_optical_err, XR_TOP, 1.073, TICKS_TOP, 0, 1, True)
p4 = make_panel(TITLES[3], J2012_radio, J2012_optical, J2012_gamma, J2012_radio_err, J2012_optical_err, XR_TOP, 1.103, TICKS_TOP, 1, 1, False)
p5 = make_panel(TITLES[4], J2253_radio, J2253_optical, J2253_gamma, J2253_radio_err, J2253_optical_err, XR_BOT, 1.065, TICKS_BOTTOM, 0, 2, False)
p6 = make_panel(TITLES[5], J2345_radio, J2345_optical, J2345_gamma, J2345_radio_err, J2345_optical_err, XR_BOT, 1.086, TICKS_BOTTOM, 1, 2, False)

grid = gridplot([[p1, p2], [p3, p4], [p5, p6]], toolbar_location=None)

open("out.html", "w").write(file_html(grid, INLINE))
